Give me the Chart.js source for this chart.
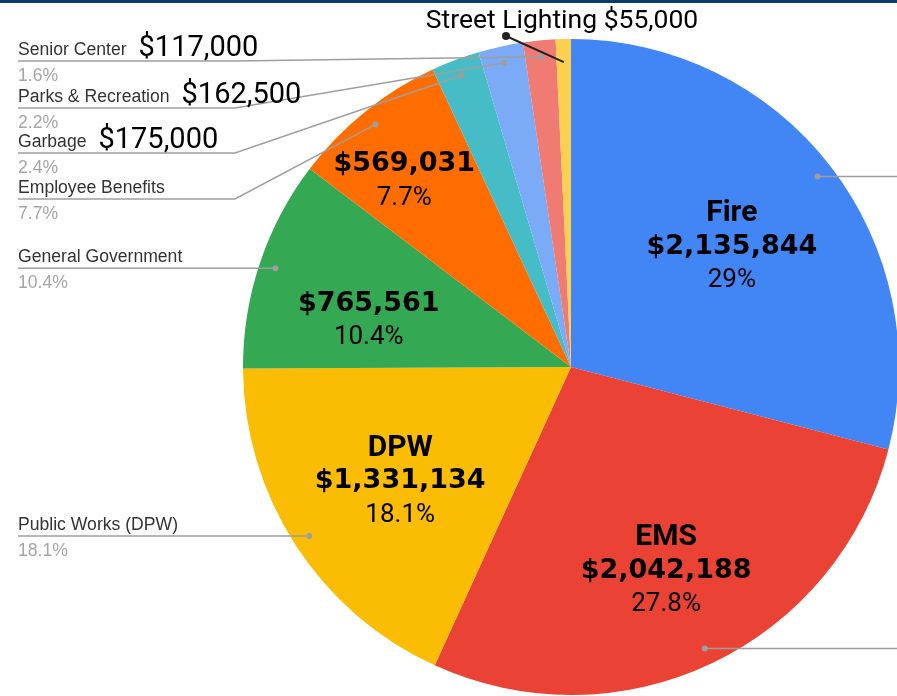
<!DOCTYPE html>
<html>
<head>
<title>Budget by Department</title>
<meta http-equiv="Content-Type" content="text/html; charset=UTF-8" />
<script src="https://cdn.jsdelivr.net/npm/chart.js@4/dist/chart.umd.min.js"></script>
<style>
	html, body { margin: 0; padding: 0; background: #fff; overflow: hidden; }
	#wrap { position: relative; width: 897px; height: 696px; overflow: hidden; }
</style>
<script>
// data
var categories = ['Fire', 'EMS', 'Public Works (DPW)', 'General Government', 'Employee Benefits',
	'Garbage', 'Parks & Recreation', 'Senior Center', 'Street Lighting'];
var shortNames = ['Fire', 'EMS', 'DPW', '', '', '', '', '', ''];
var amounts = [2135844, 2042188, 1331134, 765561, 569031, 175000, 162500, 117000, 55000];
var sliceColors = ['#4285f4', '#ea4335', '#fbbc04', '#34a853', '#ff6d01',
	'#46bdc6', '#7baaf7', '#f07b72', '#fcd04f'];

// layout of the labels (not data)
var innerDepth = [0.62, 0.675, 0.62, 0.65, 0.81]; // where the $ line sits, as share of radius
var leftCallouts = {
	2: { lineY: null, amount: false },
	3: { lineY: null, amount: false },
	4: { lineY: 199, amount: false },
	5: { lineY: 153, amount: true },
	6: { lineY: 108, amount: true },
	7: { lineY: 61, amount: true }
};
</script>
</head>
<body>
<div id="wrap"><canvas id="myChart" width="900" height="696"></canvas></div>
<script>
	var total = amounts.reduce(function(a, b) { return a + b; }, 0);

	function money(v) {
		return '$' + v.toLocaleString('en-US');
	}
	function pct(v) {
		var s = (v / total * 100).toFixed(1);
		if (s.slice(-2) === '.0') s = s.slice(0, -2);
		return s + '%';
	}

	var labelsPlugin = {
		id: 'labels',
		afterDraw: function(chart) {
			var ctx = chart.ctx;
			var arcs = chart.getDatasetMeta(0).data;
			ctx.save();

			// dark bar along the top
			ctx.fillStyle = '#0d3a68';
			ctx.fillRect(0, 0, 900, 3);

			function at(i, f) {
				var a = arcs[i];
				var mid = (a.startAngle + a.endAngle) / 2;
				return { x: a.x + Math.cos(mid) * a.outerRadius * f, y: a.y + Math.sin(mid) * a.outerRadius * f };
			}

			// labels inside the big slices
			ctx.textAlign = 'center';
			ctx.textBaseline = 'middle';
			ctx.fillStyle = '#000';
			for (var i = 0; i < innerDepth.length; i++) {
				var p = at(i, innerDepth[i]);
				var y0 = p.y + 4;
				if (shortNames[i]) {
					ctx.font = 'bold 30px Roboto';
					ctx.fillText(shortNames[i], p.x, y0 - 33);
				}
				ctx.font = 'bold 27px "DejaVu Sans"';
				ctx.fillText(money(amounts[i]), p.x, y0);
				ctx.font = '26px Roboto';
				ctx.fillText(pct(amounts[i]), p.x, y0 + 34);
			}

			// callout lines and dots
			ctx.lineWidth = 1.5;
			ctx.strokeStyle = '#9e9e9e';
			ctx.textAlign = 'left';
			ctx.textBaseline = 'alphabetic';

			// Fire and EMS run off to the right
			[0, 1].forEach(function(i) {
				var d = at(i, 0.95);
				ctx.beginPath();
				ctx.moveTo(d.x, d.y);
				ctx.lineTo(900, d.y);
				ctx.stroke();
				ctx.fillStyle = '#9e9e9e';
				ctx.beginPath();
				ctx.arc(d.x, d.y, 3, 0, Math.PI * 2);
				ctx.fill();
			});

			Object.keys(leftCallouts).forEach(function(k) {
				var i = +k;
				var c = leftCallouts[k];
				var d = at(i, 0.95);
				var y = c.lineY === null ? d.y : c.lineY;
				ctx.strokeStyle = '#9e9e9e';
				ctx.beginPath();
				ctx.moveTo(18, y);
				if (c.lineY === null) {
					ctx.lineTo(d.x, d.y);
				} else {
					ctx.lineTo(235, y);
					ctx.lineTo(d.x, d.y);
				}
				ctx.stroke();
				ctx.fillStyle = '#9e9e9e';
				ctx.beginPath();
				ctx.arc(d.x, d.y, 3, 0, Math.PI * 2);
				ctx.fill();

				ctx.font = '17.6px "Liberation Sans"';
				ctx.fillStyle = '#333';
				ctx.fillText(categories[i], 18, y - 6);
				var w = ctx.measureText(categories[i]).width;
				ctx.fillStyle = '#a6a6a6';
				ctx.fillText(pct(amounts[i]), 18, y + 20);
				if (c.amount) {
					ctx.font = '29px Roboto';
					ctx.fillStyle = '#000';
					ctx.fillText(money(amounts[i]), 18 + w + 12, y - 5);
				}
			});

			// Street Lighting sits on top
			var s = at(8, 0.93);
			ctx.strokeStyle = '#222';
			ctx.lineWidth = 2;
			ctx.beginPath();
			ctx.moveTo(506, 36);
			ctx.lineTo(s.x, s.y);
			ctx.stroke();
			ctx.fillStyle = '#222';
			ctx.beginPath();
			ctx.arc(506, 36, 4, 0, Math.PI * 2);
			ctx.fill();
			ctx.font = '26.5px Roboto';
			ctx.fillStyle = '#000';
			ctx.textAlign = 'center';
			ctx.fillText(categories[8] + ' ' + money(amounts[8]), 562, 28);

			ctx.restore();
		}
	};

	var ctx = document.getElementById('myChart').getContext('2d');
	var chart = new Chart(ctx, {
		type: 'pie',
		data: {
			labels: categories,
			datasets: [{
				data: amounts,
				backgroundColor: sliceColors,
				borderWidth: 0
			}]
		},
		options: {
			responsive: false,
			animation: false,
			layout: { padding: { left: 243, right: 1, top: 39, bottom: 1 } },
			plugins: {
				legend: { display: false },
				tooltip: { enabled: false }
			}
		},
		plugins: [labelsPlugin]
	});
</script>
</body>
</html>
